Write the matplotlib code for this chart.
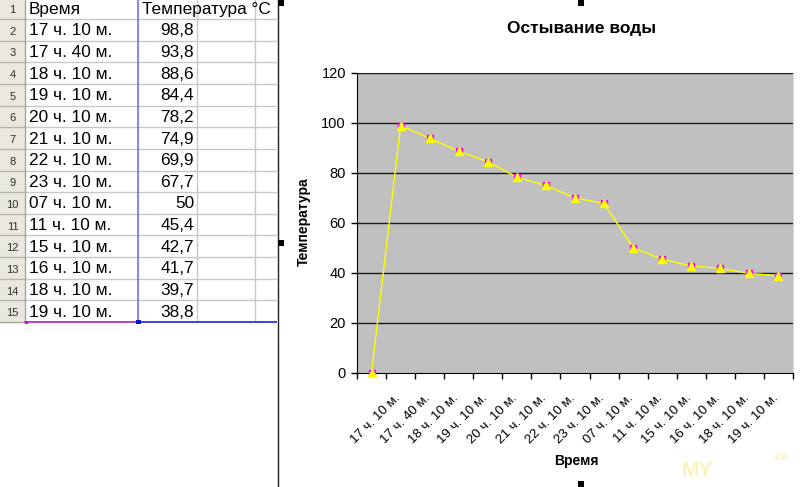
import matplotlib
matplotlib.use("Agg")
import matplotlib.pyplot as plt
from matplotlib.patches import Rectangle
from matplotlib.transforms import ScaledTranslation

plt.rcParams['font.family'] = ['Liberation Sans', 'DejaVu Sans']

# ---- data ----
header_time = "Время"
header_temp = "Температура °C"
times = ["17 ч. 10 м.", "17 ч. 40 м.", "18 ч. 10 м.", "19 ч. 10 м.", "20 ч. 10 м.",
         "21 ч. 10 м.", "22 ч. 10 м.", "23 ч. 10 м.", "07 ч. 10 м.", "11 ч. 10 м.",
         "15 ч. 10 м.", "16 ч. 10 м.", "18 ч. 10 м.", "19 ч. 10 м."]
temps = [98.8, 93.8, 88.6, 84.4, 78.2, 74.9, 69.9, 67.7, 50, 45.4, 42.7, 41.7, 39.7, 38.8]
temp_text = ["98,8", "93,8", "88,6", "84,4", "78,2", "74,9", "69,9", "67,7", "50",
             "45,4", "42,7", "41,7", "39,7", "38,8"]
# chart range included an extra leading empty cell (plotted as 0)
chart_labels = [""] + times
chart_values = [0] + temps
y_ticks = [0, 20, 40, 60, 80, 100, 120]

W, H = 800, 487
fig = plt.figure(figsize=(W / 100, H / 100), dpi=100)
bg = fig.add_axes([0, 0, 1, 1])
bg.set_xlim(0, W)
bg.set_ylim(H, 0)
bg.axis('off')

# ---- spreadsheet ----
row_h = 21.65
y0 = -2.7
n_rows = 15
table_bottom = y0 + n_rows * row_h
bg.add_patch(Rectangle((0, y0), 25, n_rows * row_h, facecolor='#E9E7DE', edgecolor='none', zorder=1))
grid_c = '#C8C8C8'
for k in range(1, n_rows):
    yy = y0 + k * row_h
    bg.plot([25, 277], [yy, yy], color=grid_c, lw=1, zorder=2)
    bg.plot([0, 25], [yy, yy], color='#B8B6AC', lw=1, zorder=2)
for xx in [197, 255]:
    bg.plot([xx, xx], [0, table_bottom], color=grid_c, lw=1, zorder=2)
bg.plot([25, 25], [0, table_bottom], color='#A8A69C', lw=1, zorder=2)
bg.plot([138, 138], [0, table_bottom], color='#6F6FF0', lw=1.2, zorder=3)
bg.plot([0, 25], [table_bottom, table_bottom], color='#A8A69C', lw=1, zorder=3)
bg.plot([25, 138], [table_bottom, table_bottom], color='#B020C0', lw=1.2, zorder=3)
bg.plot([138, 277], [table_bottom, table_bottom], color='#2020E0', lw=1.2, zorder=3)
bg.add_patch(Rectangle((136, table_bottom - 2), 4.5, 4, facecolor='#1010D0', edgecolor='none', zorder=4))
bg.add_patch(Rectangle((25, table_bottom - 1.5), 2.5, 3, facecolor='#B020C0', edgecolor='none', zorder=4))

for i in range(n_rows):
    yc = y0 + (i + 0.5) * row_h + 1
    bg.text(12.5, yc + 1, str(i + 1), fontsize=8, color='#303030', ha='center', va='center', zorder=5)
    if i == 0:
        bg.text(29, yc, header_time, fontsize=12.4, ha='left', va='center', zorder=5)
        bg.text(142, yc, header_temp, fontsize=12.4, ha='left', va='center', zorder=5)
    else:
        bg.text(29, yc, times[i - 1], fontsize=12.4, ha='left', va='center', zorder=5)
        bg.text(194, yc, temp_text[i - 1], fontsize=12.4, ha='right', va='center', zorder=5)

# ---- chart area ----
bg.add_patch(Rectangle((277, 0), W - 277, H, facecolor='white', edgecolor='none', zorder=6))
bg.plot([277.5, 277.5], [0, H], color='#202020', lw=1, zorder=7)
for (hx, hy) in [(278, 0), (578, 0), (278, 240), (578, 481)]:
    bg.add_patch(Rectangle((hx, hy), 5.5, 6, facecolor='black', edgecolor='none', zorder=8))
bg.text(582, 28, "Остывание воды", fontsize=12.5, fontweight='bold', ha='center', va='center', zorder=8)
bg.text(576, 461, "Время", fontsize=10, fontweight='bold', ha='center', va='center', zorder=8)
bg.text(304, 222, "Температура", fontsize=10, fontweight='bold', ha='center', va='center',
        rotation=90, zorder=8)
# watermark
bg.text(697, 470, "MY", fontsize=15, fontweight='bold', color='#F9F1A8', alpha=0.8,
        ha='center', va='center', zorder=8)
bg.text(780, 457, ".ru", fontsize=9, fontweight='bold', color='#F9F1A8', alpha=0.8,
        ha='center', va='center', zorder=8)

# ---- plot ----
L, R, T, B = 357, 793, 72.7, 372.7
ax = fig.add_axes([L / W, (H - B) / H, (R - L) / W, (B - T) / H])
ax.set_zorder(10)
ax.set_facecolor('#C0C0C0')
n = len(chart_values)
x = list(range(n))
ax.set_xlim(-0.5, n - 0.5)
ax.set_ylim(0, 120)
ax.set_yticks(y_ticks)
ax.set_yticklabels([str(v) for v in y_ticks], fontsize=10.5)
ax.tick_params(axis='y', direction='out', length=4, width=1, pad=4)
for v in y_ticks[1:]:
    ax.axhline(v, color='#1A1A1A', lw=1, zorder=1)
ax.set_xticks(x)
ax.set_xticklabels(chart_labels, rotation=45, ha='right', va='top', rotation_mode='anchor', fontsize=9.6)
ax.tick_params(axis='x', which='major', length=0, pad=14)
shift = ScaledTranslation(-0.06, 0, fig.dpi_scale_trans)
for lab in ax.get_xticklabels():
    lab.set_transform(lab.get_transform() + shift)
ax.set_xticks([i - 0.5 for i in range(n + 1)], minor=True)
ax.tick_params(axis='x', which='minor', direction='out', length=4.5, width=1)
ax.spines['top'].set_visible(False)
ax.spines['right'].set_color('#D8D8D8')
ax.spines['left'].set_color('black')
ax.spines['bottom'].set_color('black')

ax.plot(x, chart_values, color='#FFFF00', lw=1, zorder=3, clip_on=False)
ax.plot(x, chart_values, ls='none', marker='s', markersize=5, markerfacecolor='#FF00FF',
        markeredgecolor='#FF00FF', zorder=4, clip_on=False)
ax.plot(x, chart_values, ls='none', marker='^', markersize=5.5, markerfacecolor='#FFFF00',
        markeredgecolor='#FFFF00', zorder=5, clip_on=False)

fig.savefig("out.png", dpi=100)
